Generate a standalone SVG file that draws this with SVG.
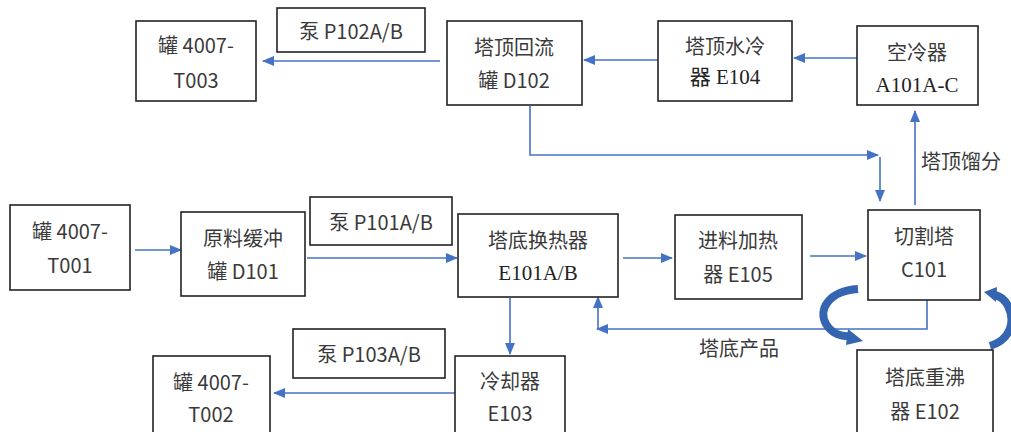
<svg xmlns="http://www.w3.org/2000/svg" width="1011" height="432" viewBox="0 0 1011 432">
<defs>
<style>
.box{fill:#fff;stroke:#222;stroke-width:1.6}
.t{font-family:"Noto Sans CJK SC","Liberation Sans",sans-serif;font-size:20px;fill:#3a3a3a;text-anchor:middle;dominant-baseline:central}
.s{font-family:"Liberation Serif","Noto Sans CJK SC",serif;font-size:21px;fill:#222}
.ln{fill:none;stroke:#4472C4;stroke-width:1.6}
.arc{fill:none;stroke:#3564B0;stroke-width:8}
</style>
<marker id="ah" markerWidth="12" markerHeight="10" refX="11" refY="5" orient="auto" markerUnits="userSpaceOnUse">
<path d="M0,0 L12,5 L0,10 Z" fill="#4472C4"/>
</marker>
</defs>
<rect width="1011" height="432" fill="#fff"/>
<g id="connectors">
<path class="ln" d="M440,61 H263" marker-end="url(#ah)"/>
<path class="ln" d="M658,60 H584" marker-end="url(#ah)"/>
<path class="ln" d="M857,58 H794" marker-end="url(#ah)"/>
<path class="ln" d="M915,205 V111" marker-end="url(#ah)"/>
<path class="ln" d="M530,106 V155 H878" marker-end="url(#ah)"/>
<path class="ln" d="M880,157 V201" marker-end="url(#ah)"/>
<path class="ln" d="M135,250 H181" marker-end="url(#ah)"/>
<path class="ln" d="M307,258 H457" marker-end="url(#ah)"/>
<path class="ln" d="M623,258 H672" marker-end="url(#ah)"/>
<path class="ln" d="M810,256 H866" marker-end="url(#ah)"/>
<path class="ln" d="M927,300 V329 H597" marker-end="url(#ah)"/>
<path class="ln" d="M598,329 V297" marker-end="url(#ah)"/>
<path class="ln" d="M510,298 V354" marker-end="url(#ah)"/>
<path class="ln" d="M455,393 H274" marker-end="url(#ah)"/>
<path class="arc" d="M858,289 C828,291 818,310 826,324 C832,334 842,337 850,336"/>
<path d="M848,329 L863,341 L846,345 Z" fill="#3564B0"/>
<path class="arc" d="M990,346 C1010,340 1016,322 1008,306 C1004,298 999,296 995,295"/>
<path d="M997,287 L984,292 L996,302 Z" fill="#3564B0"/>
</g>
<g id="T003"><rect class="box" x="136" y="21" width="120" height="80"/><text class="t" x="196" y="44">罐 4007-</text><text class="t" x="196" y="79">T003</text></g>
<g id="P102"><rect class="box" x="277" y="8" width="148" height="44"/><text class="t" x="351" y="30">泵 P102A/B</text></g>
<g id="D102"><rect class="box" x="447" y="21" width="135" height="84"/><text class="t" x="514" y="46">塔顶回流</text><text class="t" x="514" y="79">罐 D102</text></g>
<g id="E104"><rect class="box" x="658" y="21" width="134" height="80"/><text class="t" x="725" y="45">塔顶水冷</text><text class="t s" x="725" y="77">器 E104</text></g>
<g id="A101"><rect class="box" x="857" y="26" width="121" height="79"/><text class="t" x="917" y="51">空冷器</text><text class="t s" x="917" y="85">A101A-C</text></g>
<g id="T001"><rect class="box" x="10" y="205" width="120" height="85"/><text class="t" x="70" y="230">罐 4007-</text><text class="t" x="70" y="264">T001</text></g>
<g id="D101"><rect class="box" x="181" y="212" width="124" height="84"/><text class="t" x="243" y="237">原料缓冲</text><text class="t" x="243" y="270">罐 D101</text></g>
<g id="P101"><rect class="box" x="310" y="197" width="142" height="48"/><text class="t" x="381" y="221">泵 P101A/B</text></g>
<g id="E101"><rect class="box" x="458" y="214" width="160" height="83"/><text class="t" x="538" y="239">塔底换热器</text><text class="t s" x="538" y="273">E101A/B</text></g>
<g id="E105"><rect class="box" x="675" y="215" width="127" height="84"/><text class="t" x="738" y="239">进料加热</text><text class="t" x="738" y="273">器 E105</text></g>
<g id="C101"><rect class="box" x="868" y="210" width="112" height="90"/><text class="t" x="924" y="235">切割塔</text><text class="t" x="924" y="268">C101</text></g>
<g id="E102"><rect class="box" x="857" y="350" width="136" height="90"/><text class="t" x="925" y="376">塔底重沸</text><text class="t" x="925" y="410">器 E102</text></g>
<g id="E103"><rect class="box" x="455" y="356" width="110" height="90"/><text class="t" x="510" y="380">冷却器</text><text class="t" x="510" y="412">E103</text></g>
<g id="P103"><rect class="box" x="293" y="329" width="152" height="49"/><text class="t" x="369" y="353">泵 P103A/B</text></g>
<g id="T002"><rect class="box" x="153" y="356" width="117" height="90"/><text class="t" x="211" y="381">罐 4007-</text><text class="t" x="211" y="413">T002</text></g>
<g id="labels"><text class="t" x="961" y="160">塔顶馏分</text><text class="t" x="739" y="347">塔底产品</text></g>
</svg>
